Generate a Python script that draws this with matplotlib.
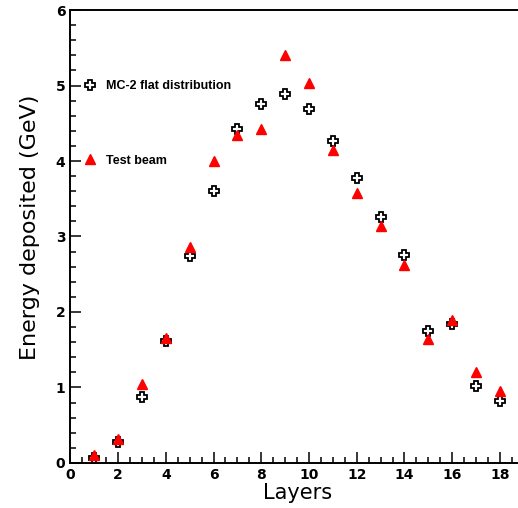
#%%
import matplotlib.pyplot as plt
import numpy as np
from matplotlib.ticker import MultipleLocator
#%%
W = 5.18
H = 5.08
#%% datos
layers = np.arange(1, 19)
mc2 = [0.07, 0.28, 0.87, 1.62, 2.74, 3.60, 4.42, 4.76, 4.89,
       4.69, 4.26, 3.77, 3.26, 2.75, 1.75, 1.84, 1.02, 0.82]
beam = [0.10, 0.32, 1.05, 1.65, 2.86, 4.00, 4.34, 4.43, 5.41,
        5.03, 4.15, 3.57, 3.14, 2.62, 1.64, 1.89, 1.21, 0.95]
#%%
plt.rcParams['font.family'] = ['Liberation Sans', 'DejaVu Sans']
f = plt.figure(figsize=(W, H), dpi=100)
ax = f.add_axes([0.1357, 0.0886, 0.8756, 0.8917])

ax.plot(layers, mc2, "P", ms=7.5, mfc="white", mec="black", mew=1.3,
        label="MC-2 flat distribution")
ax.plot(layers, beam, "^", ms=6.5, color="red", mec="red",
        label="Test beam")

ax.set_xlim(0, 19)
ax.set_ylim(0, 6)
ax.xaxis.set_major_locator(MultipleLocator(2))
ax.xaxis.set_minor_locator(MultipleLocator(0.5))
ax.yaxis.set_major_locator(MultipleLocator(1))
ax.yaxis.set_minor_locator(MultipleLocator(0.2))
ax.tick_params(which="both", direction="in", width=1.1)
ax.tick_params(which="major", length=8, labelsize=10)
ax.tick_params(which="minor", length=4)
for lab in ax.get_xticklabels() + ax.get_yticklabels():
    lab.set_fontweight("bold")
    lab.set_family("DejaVu Sans")
for s in ax.spines.values():
    s.set_linewidth(1.4)

ax.set_xlabel("Layers", fontsize=15, labelpad=1, family="DejaVu Sans")
ax.set_ylabel("Energy deposited (GeV)", fontsize=16, family="DejaVu Sans")
ax.yaxis.set_label_coords(-0.067, 0.52)

ax.legend(loc="upper left", bbox_to_anchor=(0.014, 0.862), frameon=False,
          labelspacing=5.0, handletextpad=0.75,
          handlelength=1.0, borderaxespad=0.2,
          prop={"weight": "bold", "size": 9})

f.savefig("out.png", dpi=100)
